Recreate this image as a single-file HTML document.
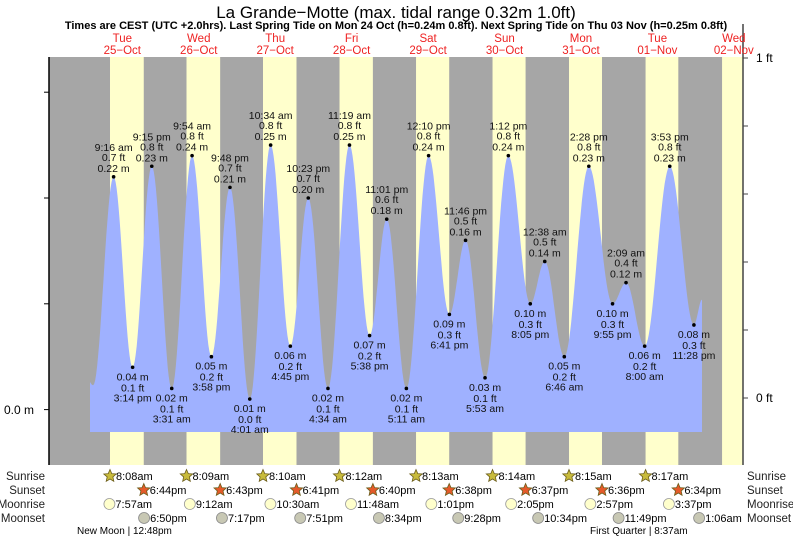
<!DOCTYPE html>
<html><head><meta charset="utf-8"><style>
html,body{margin:0;padding:0;background:#fff;}
svg{display:block;font-family:"Liberation Sans",Arial,sans-serif;}
</style></head><body>
<svg id="chart" width="793" height="539" viewBox="0 0 793 539" xmlns="http://www.w3.org/2000/svg">
<text x="396" y="18" text-anchor="middle" font-size="17" fill="#000">La Grande−Motte (max. tidal range 0.32m 1.0ft)</text>
<text x="396" y="29" text-anchor="middle" font-size="11" font-weight="bold" fill="#000">Times are CEST (UTC +2.0hrs). Last Spring Tide on Mon 24 Oct (h=0.24m 0.8ft). Next Spring Tide on Thu 03 Nov (h=0.25m 0.8ft)</text>
<g id="bg"></g><g id="water"></g><g id="marks"></g><g id="axes"></g><g id="days"></g><g id="astro"></g>
</svg>
<script>
// ---- data ----
const dayNames = ["Tue","Wed","Thu","Fri","Sat","Sun","Mon","Tue","Wed"];
const dayDates = ["25−Oct","26−Oct","27−Oct","28−Oct","29−Oct","30−Oct","31−Oct","01−Nov","02−Nov"];
const tideDay = [0,0,0,0,0,1,1,1,1,2,2,2,2,3,3,3,3,4,4,4,4,5,5,5,6,6,6,6,7,7,7,7,8];
const tideTime = ["00:00","02:50","09:16","15:14","21:15","03:31","09:54","15:58","21:48","04:01","10:34","16:45","22:23","04:34","11:19","17:38","23:01","05:11","12:10","18:41","23:46","05:53","13:12","20:05","00:38","06:46","14:28","21:55","02:09","08:00","15:53","23:28","02:00"];
const tideHeight = [0.035,0.023,0.22,0.04,0.23,0.02,0.24,0.05,0.21,0.01,0.25,0.06,0.20,0.02,0.25,0.07,0.18,0.02,0.24,0.09,0.16,0.03,0.24,0.10,0.14,0.05,0.23,0.10,0.12,0.06,0.23,0.08,0.104];
const tideLabeled = [0,0,1,1,1,1,1,1,1,1,1,1,1,1,1,1,1,1,1,1,1,1,1,1,1,1,1,1,1,1,1,1,0];
const tideClock = ["","","9:16 am","3:14 pm","9:15 pm","3:31 am","9:54 am","3:58 pm","9:48 pm","4:01 am","10:34 am","4:45 pm","10:23 pm","4:34 am","11:19 am","5:38 pm","11:01 pm","5:11 am","12:10 pm","6:41 pm","11:46 pm","5:53 am","1:12 pm","8:05 pm","12:38 am","6:46 am","2:28 pm","9:55 pm","2:09 am","8:00 am","3:53 pm","11:28 pm",""];
const tideFt = ["","","0.7","0.1","0.8","0.1","0.8","0.2","0.7","0.0","0.8","0.2","0.7","0.1","0.8","0.2","0.6","0.1","0.8","0.3","0.5","0.1","0.8","0.3","0.5","0.2","0.8","0.3","0.4","0.2","0.8","0.3",""];
const sunrise = ["08:08","08:09","08:10","08:12","08:13","08:14","08:15","08:17","08:18"];
const sunset = ["18:44","18:43","18:41","18:40","18:38","18:37","18:36","18:34","18:33"];
const sunriseLbl = ["8:08am","8:09am","8:10am","8:12am","8:13am","8:14am","8:15am","8:17am"];
const sunsetLbl = ["6:44pm","6:43pm","6:41pm","6:40pm","6:38pm","6:37pm","6:36pm","6:34pm"];
const moonriseDay = [0,1,2,3,4,5,6,7];
const moonrise = ["07:57","09:12","10:30","11:48","13:01","14:05","14:57","15:37"];
const moonriseLbl = ["7:57am","9:12am","10:30am","11:48am","1:01pm","2:05pm","2:57pm","3:37pm"];
const moonsetDay = [0,1,2,3,4,5,6,8];
const moonset = ["18:50","19:17","19:51","20:34","21:28","22:34","23:49","01:06"];
const moonsetLbl = ["6:50pm","7:17pm","7:51pm","8:34pm","9:28pm","10:34pm","11:49pm","1:06am"];
const mAxisTicks = [0,0.1,0.2,0.3];
const ftAxisTicks = [0,0.2,0.4,0.6,0.8,1.0];

// ---- scales ----
const NS="http://www.w3.org/2000/svg";
const X0=84.1, PXH=3.185, PLOT_L=49, PLOT_R=743, PLOT_T=57, PLOT_B=465;
const xOf=(d,hhmm)=>{const [h,m]=hhmm.split(":").map(Number);return X0+(d*24+h+m/60)*PXH;};
const yM=m=>409.6-m*1058;
const yFt=f=>398-f*340;
function mk(tag,attrs,parent){const e=document.createElementNS(NS,tag);for(const k in attrs)e.setAttribute(k,attrs[k]);parent.appendChild(e);return e;}
function txt(parent,x,y,s,opts){const t=mk("text",Object.assign({x:x,y:y,"font-size":11,fill:"#000"},opts||{}),parent);t.textContent=s;return t;}
const bg=document.getElementById("bg"),water=document.getElementById("water"),marks=document.getElementById("marks"),axes=document.getElementById("axes"),days=document.getElementById("days"),astro=document.getElementById("astro");

// background
let r=mk("rect",{x:PLOT_L,y:PLOT_T,width:PLOT_R-PLOT_L,height:PLOT_B-PLOT_T,fill:"#a6a6a6"},bg);


for(let d=0;d<sunrise.length;d++){
  const x1=xOf(d,sunrise[d]),x2=Math.min(xOf(d,sunset[d]),PLOT_R);
  if(x1>=PLOT_R)continue;
  const y=mk("rect",{x:x1,y:PLOT_T,width:x2-x1,height:PLOT_B-PLOT_T,fill:"#ffffcc"},bg);
  
  
}

// water curve (cosine interpolation between extremes)
const tx=tideTime.map((t,i)=>xOf(tideDay[i],t));
let pts=[];
for(let i=0;i<tx.length-1;i++){
  const n=Math.max(4,Math.round(tx[i+1]-tx[i]));
  for(let k=0;k<n;k++){const f=k/n;const h=tideHeight[i]+(tideHeight[i+1]-tideHeight[i])*(1-Math.cos(Math.PI*f))/2;pts.push([tx[i]+(tx[i+1]-tx[i])*f,yM(h)]);}
}
pts.push([tx[tx.length-1],yM(tideHeight[tideHeight.length-1])]);
const xs=90,xe=702;
pts=pts.filter(p=>p[0]>=xs&&p[0]<=xe);
let dstr="M"+xs+",432 L"+xs+","+pts[0][1].toFixed(1);
pts.forEach(p=>dstr+=" L"+p[0].toFixed(1)+","+p[1].toFixed(1));
dstr+=" L"+xe+","+pts[pts.length-1][1].toFixed(1)+" L"+xe+",432 Z";
const wp=mk("path",{d:dstr,fill:"#9fb1ff"},water);



// markers and labels
for(let i=0;i<tx.length;i++){
  if(!tideLabeled[i])continue;
  const x=tx[i],y=yM(tideHeight[i]);
  const isHigh=tideHeight[i]>tideHeight[i-1];
  const g=mk("g",{},marks);
  
  
  mk("circle",{cx:x,cy:y,r:1.8,fill:"#000"},g);
  const m=tideHeight[i].toFixed(2)+" m",f=tideFt[i]+" ft",c=tideClock[i];
  const o={"text-anchor":"middle","font-size":10.5,fill:"#111"};
  if(isHigh){txt(g,x,y-26,c,o);txt(g,x,y-16,f,o);txt(g,x,y-5,m,o);}
  else{txt(g,x,y+13,m,o);txt(g,x,y+24,f,o);txt(g,x,y+34,c,o);}
}

// axes
let al=mk("line",{x1:PLOT_L,y1:PLOT_T,x2:PLOT_L,y2:PLOT_B,stroke:"#000","stroke-width":1.5},axes);

let ar=mk("line",{x1:PLOT_R,y1:24,x2:PLOT_R,y2:PLOT_B,stroke:"#444","stroke-width":1.5},axes);

mAxisTicks.forEach(v=>{const t=mk("line",{x1:PLOT_L-5,y1:yM(v),x2:PLOT_L,y2:yM(v),stroke:"#000"},axes);});
let l0=txt(axes,34,414,"0.0 m",{"text-anchor":"end","font-size":12});

ftAxisTicks.forEach(v=>{const t=mk("line",{x1:PLOT_R,y1:yFt(v),x2:PLOT_R+5,y2:yFt(v),stroke:"#444"},axes);});
let f0=txt(axes,756,402,"0 ft",{"font-size":12});
let f1=txt(axes,756,62,"1 ft",{"font-size":12});

// day labels
for(let d=0;d<dayNames.length;d++){
  const x=xOf(d,"12:00");
  const g=mk("g",{},days);
  
  
  txt(g,x,42,dayNames[d],{"text-anchor":"middle","font-size":11.5,fill:"#ee2222"});
  txt(g,x,54,dayDates[d],{"text-anchor":"middle","font-size":11.5,fill:"#ee2222"});
}

// astro rows
const rowY=[476,490,504,518];
const rowNames=["Sunrise","Sunset","Moonrise","Moonset"];
rowNames.forEach((n,i)=>{
  let a=txt(astro,45,rowY[i]+4,n,{"text-anchor":"end","font-size":11.5,fill:"#222"});
  let b=txt(astro,747,rowY[i]+4,n,{"font-size":11.5,fill:"#222"});
});
function star(cx,cy,fill){let p="";for(let k=0;k<10;k++){const a=-Math.PI/2+k*Math.PI/5,rr=k%2?3:6.5;p+=(cx+rr*Math.cos(a)).toFixed(1)+","+(cy+rr*Math.sin(a)).toFixed(1)+" ";}return mk("polygon",{points:p,fill:fill,stroke:"#6b5d1a","stroke-width":0.8},astro);}
sunriseLbl.forEach((l,d)=>{const x=xOf(d,sunrise[d]);const s=star(x,rowY[0],"#c8bb3c");
  const t=txt(astro,x+6,rowY[0]+4,l,{"font-size":11});});
sunsetLbl.forEach((l,d)=>{const x=xOf(d,sunset[d]);const s=star(x,rowY[1],"#e55a2a");
  const t=txt(astro,x+6,rowY[1]+4,l,{"font-size":11});});
moonriseLbl.forEach((l,i)=>{const x=xOf(moonriseDay[i],moonrise[i]);const c=mk("circle",{cx:x,cy:rowY[2],r:5.5,fill:"#ffffcc",stroke:"#999","stroke-width":0.8},astro);
  const t=txt(astro,x+6,rowY[2]+4,l,{"font-size":11});});
moonsetLbl.forEach((l,i)=>{const x=xOf(moonsetDay[i],moonset[i]);const c=mk("circle",{cx:x,cy:rowY[3],r:5.5,fill:"#c8c8b4",stroke:"#888","stroke-width":0.8},astro);
  const t=txt(astro,x+6,rowY[3]+4,l,{"font-size":11});});
let nm=txt(astro,77,534,"New Moon | 12:48pm",{"font-size":10});
let fq=txt(astro,590,534,"First Quarter | 8:37am",{"font-size":10});
</script>
</body></html>
